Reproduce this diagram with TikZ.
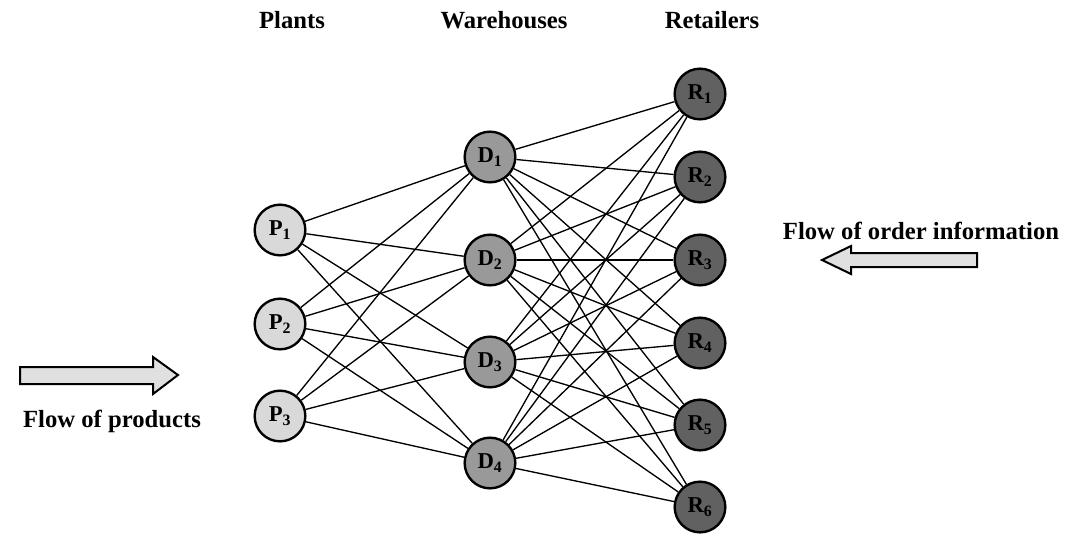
\documentclass[tikz,border=0pt]{standalone}
\usepackage{fontspec}
\setmainfont{Liberation Serif}
\begin{document}
\begin{tikzpicture}[x=0.75pt,y=-0.75pt,
  site/.style={circle,draw=black,line width=1.8pt,minimum size=38pt,inner sep=0pt,
    font=\fontsize{17}{17}\selectfont\bfseries},
  plant/.style={site,fill=black!15},
  whouse/.style={site,fill=black!40},
  retail/.style={site,fill=black!62},
  link/.style={line width=1pt},
  head/.style={font=\fontsize{18.5}{20}\selectfont\bfseries,anchor=base},
  flowarrow/.style={draw=black,line width=1.5pt,fill=black!12,line join=miter}]
\useasboundingbox (0,0) rectangle (1070,540);
% column titles
\node[head] (tp) at (292,28) {Plants};
\node[head] (tw) at (504,28) {Warehouses};
\node[head] (tr) at (712,28) {Retailers};
% plants
\node[plant] (P1) at (280,230) {P\textsubscript{1}};
\node[plant] (P2) at (280,324) {P\textsubscript{2}};
\node[plant] (P3) at (280,416) {P\textsubscript{3}};
% warehouses
\node[whouse] (D1) at (490,157) {D\textsubscript{1}};
\node[whouse] (D2) at (490,260) {D\textsubscript{2}};
\node[whouse] (D3) at (490,362) {D\textsubscript{3}};
\node[whouse] (D4) at (490,463) {D\textsubscript{4}};
% retailers
\node[retail] (R1) at (700,94) {R\textsubscript{1}};
\node[retail] (R2) at (700,177) {R\textsubscript{2}};
\node[retail] (R3) at (700,260) {R\textsubscript{3}};
\node[retail] (R4) at (700,343) {R\textsubscript{4}};
\node[retail] (R5) at (700,425) {R\textsubscript{5}};
\node[retail] (R6) at (700,507) {R\textsubscript{6}};
% plant -> warehouse links
\foreach \p in {1,2,3}
  \foreach \d in {1,2,3,4}
    \draw[link] (P\p) -- (D\d);
% warehouse -> retailer links
\foreach \d in {1,2,3,4}
  \foreach \r in {1,...,6}
    \draw[link] (D\d) -- (R\r);
% flow of products (left to right)
\draw[flowarrow] (20,367) -- (153,367) -- (153,357) -- (178,375) -- (153,394)
  -- (153,384) -- (20,384) -- cycle;
\node[head] (fp) at (112,427) {Flow of products};
% flow of order information (right to left)
\draw[flowarrow] (977,253) -- (851,253) -- (851,246) -- (822,260) -- (851,274)
  -- (851,267) -- (977,267) -- cycle;
\node[head] (fo) at (921,239) {Flow of order information};
\end{tikzpicture}
\end{document}
